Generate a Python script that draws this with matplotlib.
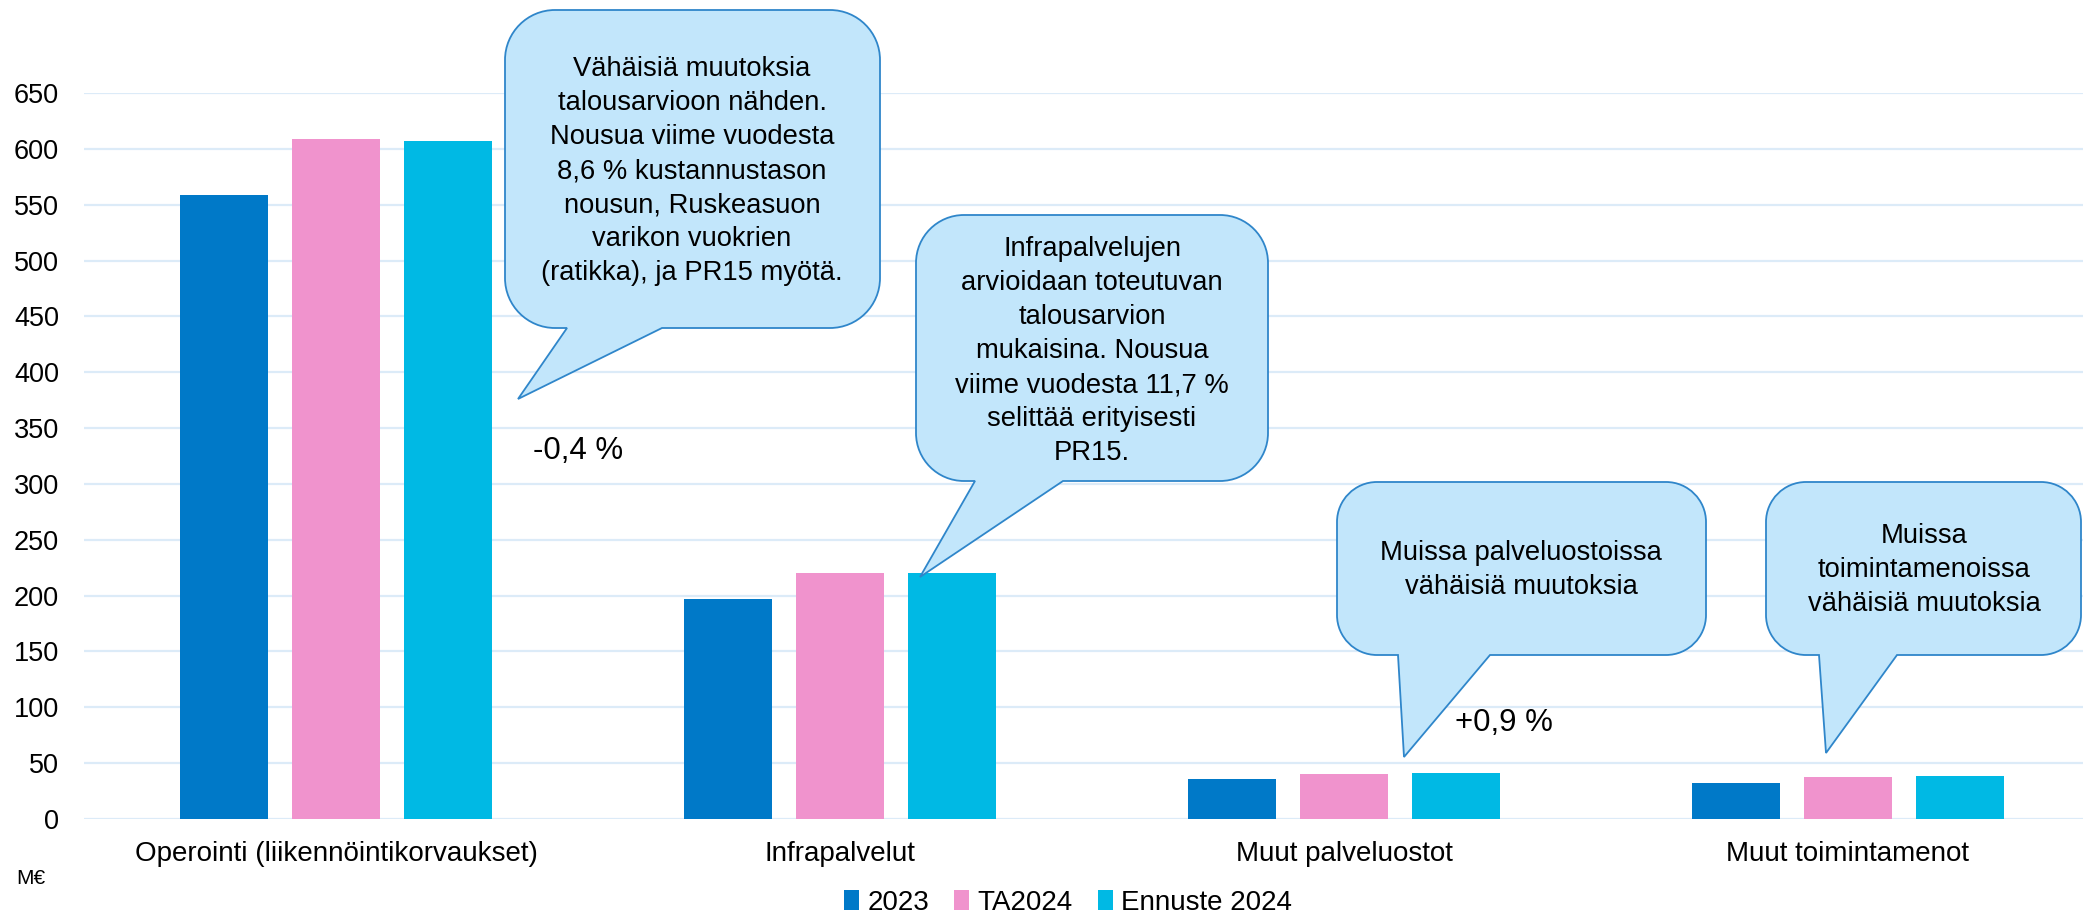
import matplotlib
matplotlib.use("Agg")
import matplotlib.pyplot as plt
from matplotlib.path import Path
from matplotlib.patches import PathPatch
import numpy as np

plt.rcParams['font.family'] = ['Liberation Sans', 'DejaVu Sans']

categories = ["Operointi (liikennöintikorvaukset)", "Infrapalvelut",
              "Muut palveluostot", "Muut toimintamenot"]
series_names = ["2023", "TA2024", "Ennuste 2024"]
values_2023 = [559, 197, 36, 32]
values_ta2024 = [609, 220, 40.5, 37.3]
values_ennuste = [607, 220, 40.9, 38.2]
colors = ["#0079C8", "#F093CD", "#00B9E4"]
yticks = list(range(0, 651, 50))

callout_texts = [
    "Vähäisiä muutoksia\ntalousarvioon nähden.\nNousua viime vuodesta\n8,6 % kustannustason\nnousun, Ruskeasuon\nvarikon vuokrien\n(ratikka), ja PR15 myötä.",
    "Infrapalvelujen\narvioidaan toteutuvan\ntalousarvion\nmukaisina. Nousua\nviime vuodesta 11,7 %\nselittää erityisesti\nPR15.",
    "Muissa palveluostoissa\nvähäisiä muutoksia",
    "Muissa\ntoimintamenoissa\nvähäisiä muutoksia",
]
pct_labels = ["-0,4 %", "+0,9 %"]

W, H = 2083, 916
fig = plt.figure(figsize=(W / 100, H / 100), dpi=100)

ax_left, ax_right, ax_top, ax_bot = 84, 2083, 93, 819
ax = fig.add_axes([ax_left / W, (H - ax_bot) / H, (ax_right - ax_left) / W, (ax_bot - ax_top) / H])

x = np.arange(len(categories))
pitch = 0.222
bw = 0.175
for i, (vals, name) in enumerate(zip([values_2023, values_ta2024, values_ennuste], series_names)):
    ax.bar(x + (i - 1) * pitch, vals, width=bw, color=colors[i], label=name, zorder=3)

ax.set_ylim(0, 650)
ax.set_xlim(-0.5, -0.5 + (ax_right - ax_left) / 504)
ax.set_yticks(yticks)
ax.set_xticks(x)
ax.set_xticklabels(categories, fontsize=20)
ax.tick_params(axis='y', labelsize=19.5, length=0, pad=18)
ax.tick_params(axis='x', length=0, pad=16)
for s in ax.spines.values():
    s.set_visible(False)
ax.grid(axis='y', color="#DCEBF8", linewidth=1.6, zorder=0)
ax.set_axisbelow(True)

fig.text(31 / W, 1 - 879 / H, "M€", fontsize=15, ha='center', va='center')

leg = fig.legend(loc='center', bbox_to_anchor=(1068 / W, 1 - 903 / H), ncol=3, frameon=False,
                 fontsize=20, handlelength=0.55, handleheight=0.75, handletextpad=0.3,
                 columnspacing=0.9)

# overlay axes in pixel coordinates for callouts
ov = fig.add_axes([0, 0, 1, 1], zorder=5)
ov.set_xlim(0, W)
ov.set_ylim(H, 0)
ov.axis('off')
ov.patch.set_alpha(0)


def callout(x0, y0, x1, y1, r, tb0, tb1, tip):
    k = 0.5523
    verts = [(x0 + r, y0), (x1 - r, y0),
             (x1 - r + k * r, y0), (x1, y0 + r - k * r), (x1, y0 + r),
             (x1, y1 - r),
             (x1, y1 - r + k * r), (x1 - r + k * r, y1), (x1 - r, y1),
             (tb1, y1), tip, (tb0, y1),
             (x0 + r, y1),
             (x0 + r - k * r, y1), (x0, y1 - r + k * r), (x0, y1 - r),
             (x0, y0 + r),
             (x0, y0 + r - k * r), (x0 + r - k * r, y0), (x0 + r, y0),
             (x0 + r, y0)]
    codes = [Path.MOVETO, Path.LINETO,
             Path.CURVE4, Path.CURVE4, Path.CURVE4,
             Path.LINETO,
             Path.CURVE4, Path.CURVE4, Path.CURVE4,
             Path.LINETO, Path.LINETO, Path.LINETO,
             Path.LINETO,
             Path.CURVE4, Path.CURVE4, Path.CURVE4,
             Path.LINETO,
             Path.CURVE4, Path.CURVE4, Path.CURVE4,
             Path.CLOSEPOLY]
    p = PathPatch(Path(verts, codes), facecolor="#C2E6FB", edgecolor="#2F86CA", linewidth=1.3,
                  joinstyle='miter')
    ov.add_patch(p)


boxes = [
    (505, 10, 880, 328, 50, 567, 662, (518, 399)),
    (916, 215, 1268, 481, 48, 975, 1063, (920, 577)),
    (1337, 482, 1706, 655, 40, 1398, 1490, (1404, 757)),
    (1766, 482, 2081, 655, 40, 1819, 1897, (1826, 753)),
]
text_pos = [(692, 171), (1092, 351), (1521, 570), (1924, 570)]
for b, t, tp in zip(boxes, callout_texts, text_pos):
    callout(*b)
    ov.text(tp[0], tp[1], t, ha='center', va='center', fontsize=19.7, linespacing=1.4)

ov.text(578, 451, pct_labels[0], ha='center', va='center', fontsize=22.5)
ov.text(1504, 723, pct_labels[1], ha='center', va='center', fontsize=22.5)

fig.savefig("out.png", dpi=100)
